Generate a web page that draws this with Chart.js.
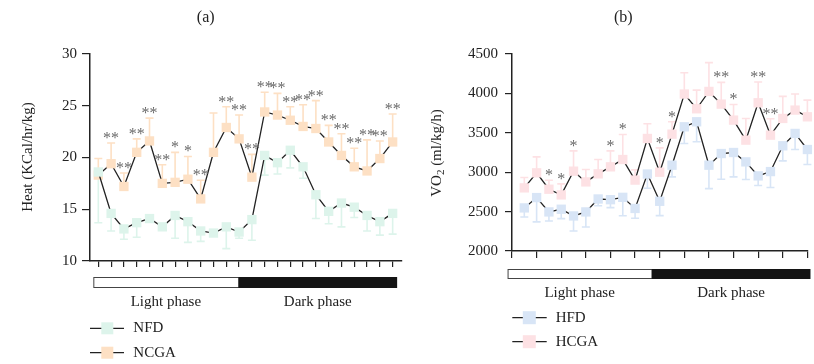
<!DOCTYPE html>
<html>
<head>
<meta charset="utf-8">
<script src="https://cdn.jsdelivr.net/npm/chart.js@4.4.0/dist/chart.umd.min.js"></script>
<style>
  html, body { margin: 0; padding: 0; background: #fff; }
  #wrap { position: relative; width: 814px; height: 364px; }
  .box { position: absolute; top: 0; height: 364px; }
</style>
</head>
<body>
<div id="wrap">
  <div class="box" style="left:0;width:410px"><canvas id="heatChart"></canvas></div>
  <div class="box" style="left:410px;width:404px"><canvas id="vo2Chart"></canvas></div>
</div>
<script>
// time slots (x positions of the points)
const slots = [1, 2, 3, 4, 5, 6, 7, 8, 9, 10, 11, 12, 13, 14, 15, 16, 17, 18, 19, 20, 21, 22, 23, 24];

// (a) Heat
const nfd = [18.6, 14.6, 13.1, 13.7, 14.1, 13.3, 14.4, 13.8, 12.9, 12.7, 13.3, 12.8, 14.0, 20.2, 19.5, 20.7, 19.1, 16.4, 14.8, 15.6, 15.2, 14.4, 13.8, 14.6];
const nfdLow = [13.7, 12.9, 12.1, 12.3, 13.8, 13.0, 12.2, 11.8, 11.9, 12.5, 11.2, 12.2, 12.0, 18.3, 18.4, 19.0, 18.0, 14.1, 13.6, 13.3, 14.2, 12.9, 12.5, 12.6];
const ncga = [18.3, 19.4, 17.2, 20.5, 21.6, 17.5, 17.6, 17.9, 16.0, 20.5, 22.9, 21.8, 18.1, 24.4, 24.1, 23.6, 23.0, 22.8, 21.5, 20.2, 19.1, 18.7, 19.9, 21.5];
const ncgaHigh = [19.9, 21.4, 18.5, 21.8, 23.8, 19.3, 20.5, 20.1, 17.8, 24.3, 24.9, 24.1, 20.3, 26.3, 26.2, 24.9, 25.1, 25.5, 23.1, 22.3, 20.9, 21.7, 21.6, 24.2];
const sigA = ['', '**', '**', '**', '**', '**', '*', '*', '**', '', '**', '**', '**', '**', '**', '**', '**', '**', '**', '**', '**', '**', '**', '**'];

// (b) VO2
const hfd = [2547, 2678, 2496, 2530, 2445, 2496, 2660, 2651, 2681, 2540, 2977, 2631, 3089, 3576, 3640, 3089, 3237, 3250, 3131, 2953, 3008, 3335, 3492, 3288];
const hfdLow = [2432, 2369, 2381, 2411, 2254, 2305, 2575, 2550, 2448, 2415, 2796, 2449, 2941, 3364, 3386, 2792, 2911, 2941, 2907, 2831, 2805, 3144, 3288, 3097];
const hcga = [2801, 2992, 2784, 2712, 3013, 2877, 2979, 3068, 3161, 2900, 3428, 3000, 3483, 3992, 3805, 4025, 3864, 3661, 3407, 3881, 3470, 3682, 3788, 3703];
const hcgaHigh = [2932, 3195, 2898, 2852, 3271, 3034, 3161, 3271, 3479, 3030, 3614, 3309, 3640, 4263, 4042, 4390, 4140, 3860, 3682, 4144, 3678, 3962, 3992, 3915];
const sigB = ['', '', '*', '*', '*', '', '', '*', '*', '', '', '*', '*', '', '', '', '**', '*', '', '**', '**', '', '', ''];

const SERIF = "'Liberation Serif', 'DejaVu Serif', serif";
const INK = '#222';

const colNFD = '#ddf4eb';
const colNCGA = '#fde0c4';
const colHFD = '#d8e5f6';
const colHCGA = '#fde1e4';

function toPoints(values) {
    return values.map((v, i) => ({ x: slots[i], y: v }));
}

function seriesDs(label, values, color) {
    return {
        label,
        data: toPoints(values),
        borderColor: INK,
        borderWidth: 1.3,
        backgroundColor: color,
        pointBackgroundColor: color,
        pointBorderWidth: 0,
        pointStyle: 'rect',
        pointRadius: 6.6,
        tension: 0,
        fill: false,
        clip: false
    };
}

// error bars, stars, phase bar, legend, titles
const extrasPlugin = {
    id: 'extras',
    beforeDatasetsDraw(chart, args, opts) {
        const ctx = chart.ctx;
        const xs = chart.scales.x, ys = chart.scales.y;
        opts.errors.forEach(e => {
            const data = chart.data.datasets[e.ds].data;
            ctx.save();
            ctx.strokeStyle = e.color;
            ctx.lineWidth = 1.6;
            e.ends.forEach((v, k) => {
                const x = xs.getPixelForValue(data[k].x);
                const y0 = ys.getPixelForValue(data[k].y);
                const y1 = ys.getPixelForValue(v);
                ctx.beginPath();
                ctx.moveTo(x, y0);
                ctx.lineTo(x, y1);
                ctx.moveTo(x - 4, y1);
                ctx.lineTo(x + 4, y1);
                ctx.stroke();
            });
            ctx.restore();
        });
    },
    afterDraw(chart, args, opts) {
        const ctx = chart.ctx;
        const xs = chart.scales.x, ys = chart.scales.y;
        ctx.save();

        // panel title
        ctx.fillStyle = INK;
        ctx.font = '16px ' + SERIF;
        ctx.textAlign = 'center';
        ctx.textBaseline = 'middle';
        ctx.fillText(opts.title.text, opts.title.x, opts.title.y);

        // y axis title (with optional subscript)
        ctx.save();
        ctx.translate(opts.yTitle.x, opts.yTitle.y);
        ctx.rotate(-Math.PI / 2);
        ctx.textAlign = 'left';
        let total = 0;
        opts.yTitle.parts.forEach(p => {
            ctx.font = (p.sub ? '11px ' : '15px ') + SERIF;
            total += ctx.measureText(p.text).width;
        });
        let cx = -total / 2;
        opts.yTitle.parts.forEach(p => {
            ctx.font = (p.sub ? '11px ' : '15px ') + SERIF;
            ctx.fillText(p.text, cx, p.sub ? 4 : 0);
            cx += ctx.measureText(p.text).width;
        });
        ctx.restore();

        // significance stars
        ctx.fillStyle = '#6a6a6a';
        ctx.font = '16px ' + SERIF;
        ctx.textAlign = 'center';
        ctx.textBaseline = 'alphabetic';
        const sd = chart.data.datasets[opts.sig.ds].data;
        opts.sig.labels.forEach((s, k) => {
            if (!s) return;
            const x = xs.getPixelForValue(sd[k].x);
            const y = ys.getPixelForValue(opts.sig.ends[k]);
            ctx.fillText(s, x, y);
        });

        // light / dark phase bar
        const ph = opts.phase;
        const xa = xs.getPixelForValue(ph.from);
        const xb = xs.getPixelForValue(ph.split);
        const xc = xs.getPixelForValue(ph.to);
        ctx.lineWidth = 1;
        ctx.strokeStyle = '#444';
        ctx.fillStyle = '#fff';
        ctx.fillRect(xa, ph.top, xb - xa, ph.bottom - ph.top);
        ctx.strokeRect(xa + 0.5, ph.top + 0.5, xb - xa, ph.bottom - ph.top);
        ctx.fillStyle = '#141414';
        ctx.fillRect(xb, ph.top, xc - xb, ph.bottom - ph.top + 1);
        ctx.fillStyle = INK;
        ctx.font = '15px ' + SERIF;
        ctx.textBaseline = 'middle';
        ctx.fillText('Light phase', (xa + xb) / 2, ph.labelY);
        ctx.fillText('Dark phase', (xb + xc) / 2, ph.labelY);

        // legend
        const lg = opts.legend;
        lg.items.forEach((it, i) => {
            const y = lg.y[i];
            ctx.strokeStyle = INK;
            ctx.lineWidth = 1.3;
            ctx.beginPath();
            ctx.moveTo(lg.lineFrom, y);
            ctx.lineTo(lg.lineTo, y);
            ctx.stroke();
            const ds = chart.data.datasets[it];
            ctx.fillStyle = ds.pointBackgroundColor;
            ctx.fillRect(lg.mark - lg.size / 2, y - lg.size / 2, lg.size, lg.size);
            ctx.fillStyle = INK;
            ctx.textAlign = 'left';
            ctx.fillText(ds.label, lg.text, y);
        });
        ctx.restore();
    }
};

function xAxis(min, max, ticks, tickLen, h) {
    return {
        type: 'linear',
        min, max,
        afterBuildTicks: s => { s.ticks = ticks.map(v => ({ value: v })); },
        afterFit: s => { s.height = h; },
        ticks: { display: false },
        grid: { drawOnChartArea: false, tickLength: tickLen, color: INK, lineWidth: 1.2 },
        border: { color: INK, width: 1.5 }
    };
}

function yAxis(min, max, step, w, tickLen, pad) {
    return {
        min, max,
        afterFit: s => { s.width = w; },
        ticks: {
            stepSize: step, color: INK, padding: pad,
            font: { family: SERIF, size: 15 },
            callback: v => String(v)
        },
        grid: { drawOnChartArea: false, tickLength: tickLen, color: INK, lineWidth: 1.2 },
        border: { color: INK, width: 1.5 }
    };
}

const heatChart = new Chart(document.getElementById('heatChart').getContext('2d'), {
    type: 'line',
    data: {
        datasets: [seriesDs('NFD', nfd, colNFD), seriesDs('NCGA', ncga, colNCGA)]
    },
    options: {
        responsive: true,
        maintainAspectRatio: false,
        animation: false,
        layout: { padding: { left: 0, top: 54, right: 8, bottom: 93 } },
        scales: {
            x: xAxis(0.35, 24.73, slots, 6, 10),
            y: yAxis(10, 30, 5, 90, 8, 5)
        },
        plugins: {
            legend: { display: false },
            tooltip: { enabled: false },
            extras: {
                title: { text: '(a)', x: 205.7, y: 18 },
                yTitle: { x: 28, y: 157, parts: [{ text: 'Heat (KCal/hr/kg)' }] },
                errors: [{ ds: 0, ends: nfdLow, color: colNFD }, { ds: 1, ends: ncgaHigh, color: colNCGA }],
                sig: { ds: 1, ends: ncgaHigh, labels: sigA },
                phase: { from: 0.61, split: 11.95, to: 24.35, top: 277, bottom: 287, labelY: 302 },
                legend: { items: [0, 1], y: [328.3, 352.7], lineFrom: 90, lineTo: 124, mark: 107.3, size: 12, text: 133.3 }
            }
        }
    },
    plugins: [extrasPlugin]
});

const vo2Chart = new Chart(document.getElementById('vo2Chart').getContext('2d'), {
    type: 'line',
    data: {
        datasets: [seriesDs('HFD', hfd, colHFD), seriesDs('HCGA', hcga, colHCGA)]
    },
    options: {
        responsive: true,
        maintainAspectRatio: false,
        animation: false,
        layout: { padding: { left: 0, top: 54, right: 6, bottom: 103 } },
        scales: {
            x: xAxis(0, 24, [0, 2, 4, 6, 8, 10, 12, 14, 16, 18, 20, 22, 24], 7, 10),
            y: yAxis(2000, 4500, 500, 102, 7, 7)
        },
        plugins: {
            legend: { display: false },
            tooltip: { enabled: false },
            extras: {
                title: { text: '(b)', x: 213.3, y: 18 },
                yTitle: { x: 27.3, y: 153, parts: [{ text: 'VO' }, { text: '2', sub: true }, { text: ' (ml/kg/h)' }] },
                errors: [{ ds: 0, ends: hfdLow, color: colHFD }, { ds: 1, ends: hcgaHigh, color: colHCGA }],
                sig: { ds: 1, ends: hcgaHigh, labels: sigB },
                phase: { from: -0.36, split: 11.35, to: 24.25, top: 269, bottom: 278, labelY: 292.7 },
                legend: { items: [0, 1], y: [317.7, 341.7], lineFrom: 102.3, lineTo: 136.7, mark: 119.3, size: 13, text: 145.7 }
            }
        }
    },
    plugins: [extrasPlugin]
});
</script>
</body>
</html>
